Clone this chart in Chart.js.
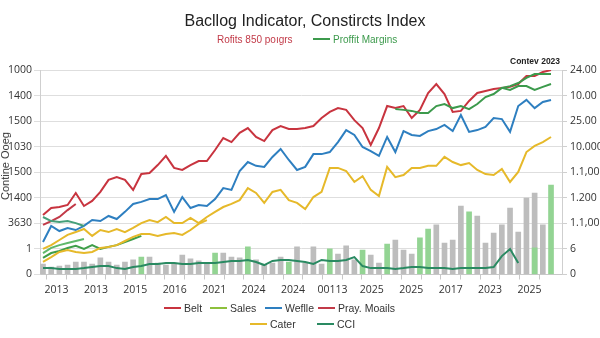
<!DOCTYPE html>
<html>
<head>
<meta charset="utf-8">
<script src="https://cdn.jsdelivr.net/npm/chart.js@4.4.1/dist/chart.umd.min.js"></script>
<style>
  html, body { margin: 0; padding: 0; background: #fff; }
  #wrap { position: relative; width: 600px; height: 338px; overflow: hidden; font-family: "Liberation Sans", Arial, sans-serif; }
  #c { position: absolute; left: 0; top: 0; }
  .abs { position: absolute; white-space: nowrap; }
  #title { left: 0; width: 610px; top: 12px; text-align: center; font-size: 16px; color: #222; }
  #sub1 { left: 217px; top: 34px; font-size: 10px; color: #c23a48; }
  #sub2 { left: 313px; top: 34px; font-size: 10px; color: #3c9a4c; }
  .sw { display: inline-block; width: 17px; height: 2px; vertical-align: middle; margin-right: 3px; position: relative; top: -1px; }
  #ytitle { left: 5px; top: 166px; font-size: 11px; color: #333; transform: translate(-50%, -50%) rotate(-90deg); }
  #corner { left: 510px; top: 56px; font-size: 8.5px; font-weight: bold; color: #222; }
  .lg { font-size: 10.5px; color: #333; }
</style>
</head>
<body>
<div id="wrap">
  <canvas id="c" width="600" height="338"></canvas>
  <div class="abs" id="title">Bacllog Indicator, Constircts Index</div>
  <div class="abs" id="sub1">Rofits 850 poıgrs</div>
  <div class="abs" id="sub2"><span class="sw" style="background:#3c9a4c"></span>Proffit Margins</div>
  <div class="abs" id="ytitle">Contine Ooeg</div>
  <div class="abs" id="corner">Contev 2023</div>
  <div id="legend"></div>
</div>
<script>
// ---- data (values in units of the left axis grid, 0..8) ----
const periods = [0,1,2,3,4,5,6,7,8,9,10,11,12,13,14,15,16,17,18,19,20,21,22,23,24,25,26,27,28,29,30,31,32,33,34,35,36,37,38,39,40,41,42,43,44,45,46,47,48,49,50,51,52,53,54,55,56,57,58,59,60,61,62];
const xTickLabels = ["2013","2013","2015","2016","2021","2024","2024","00113","2025","2025","2017","2023","2025"];
const leftTickLabels = ["0","1","3630","1400","1500","1030","1500","1400","1000"];
const rightTickLabels = ["0","6","1.1,000","1.200","1.1,000","10.000","25.00","10.00","24.00"];

const belt = [2.33,2.60,2.64,2.72,3.19,2.68,2.88,3.23,3.70,3.81,3.70,3.31,3.93,3.97,4.28,4.64,4.17,4.09,4.28,4.44,4.44,4.87,5.34,5.18,5.54,5.73,5.38,5.22,5.65,5.81,5.69,5.69,5.73,5.81,6.12,6.36,6.51,6.44,6.04,5.73,5.07,5.73,6.59,6.51,6.59,6.12,6.44,7.10,7.45,7.06,6.36,6.40,6.79,7.10,7.18,7.26,7.30,7.34,7.45,7.77,7.77,7.92,8.00];
const prayMoails = [1.94,2.09,2.25,2.52,2.76];
const weflle = [1.27,1.90,1.70,1.82,1.74,1.90,2.13,2.09,2.29,2.17,2.45,2.76,2.84,2.95,2.95,3.11,2.45,3.03,2.60,2.72,2.68,2.95,3.38,3.31,4.05,4.40,4.25,4.21,4.60,4.91,4.48,4.09,4.21,4.71,4.71,4.79,5.18,5.65,5.46,4.99,4.83,4.64,5.38,4.79,5.61,5.46,5.42,5.61,5.69,5.85,5.61,6.24,5.58,5.65,5.77,6.12,6.08,5.58,6.59,6.83,6.51,6.75,6.83];
const cater = [1.00,1.15,1.35,1.55,1.66,1.78,1.51,1.74,1.66,1.78,1.66,1.82,2.01,2.13,2.05,2.25,2.01,2.01,2.21,2.01,2.25,2.45,2.64,2.76,2.91,3.38,3.19,2.80,3.23,3.31,2.91,2.80,2.56,3.03,3.23,4.17,4.17,4.05,3.62,3.85,3.31,3.07,4.21,3.81,3.89,4.17,4.17,4.25,4.25,4.60,4.40,4.28,4.36,4.09,3.93,3.89,4.13,3.62,4.01,4.79,5.03,5.18,5.38];
const caterLow = [0.49,0.68,0.88,0.96,0.88,0.84,0.88,1.04,1.08,1.15,1.31,1.47,1.58,1.58,1.51,1.58,1.62,1.55,1.74,1.98,2.13];
const sales = [0.65,0.84,0.92,1.04,1.12,1.00,1.15,1.00,1.08,1.15,1.27,1.39,1.51];
const salesB = [0.84,1.04,1.15,1.23,1.31,1.39];
const cciUpper = [2.25,2.09,2.05,2.09,2.01,1.90];
const cci = [0.25,0.25,0.22,0.22,0.22,0.25,0.29,0.33,0.33,0.25,0.22,0.29,0.33,0.41,0.41,0.45,0.45,0.41,0.41,0.45,0.45,0.45,0.49,0.53,0.53,0.57,0.49,0.37,0.53,0.57,0.57,0.53,0.49,0.41,0.57,0.53,0.53,0.57,0.68,0.33,0.25,0.25,0.25,0.22,0.25,0.29,0.29,0.25,0.25,0.25,0.22,0.25,0.25,0.25,0.25,0.29,0.72,1.00,0.45,null,null,null,null];
const profitMargins = [null,null,null,null,null,null,null,null,null,null,null,null,null,null,null,null,null,null,null,null,null,null,null,null,null,null,null,null,null,null,null,null,null,null,null,null,null,null,null,null,null,null,null,6.47,6.44,6.40,6.32,6.32,6.59,6.67,6.51,6.59,6.47,6.67,6.94,7.06,7.30,7.22,7.37,7.37,7.22,7.34,7.45];
const profitTop = [null,null,null,null,null,null,null,null,null,null,null,null,null,null,null,null,null,null,null,null,null,null,null,null,null,null,null,null,null,null,null,null,null,null,null,null,null,null,null,null,null,null,null,null,null,null,null,null,null,null,null,null,null,null,null,null,7.30,7.37,7.49,7.69,7.84,7.84,7.84];
const grayBars = [0.41,0.29,0.33,0.37,0.49,0.49,0.41,0.65,0.49,0.37,0.49,0.57,null,0.68,0.45,0.37,0.45,0.76,0.61,0.53,0.41,null,0.84,0.68,0.65,null,0.57,0.37,0.45,0.68,null,1.08,0.45,1.08,0.41,null,0.80,1.12,0.57,null,0.76,0.45,null,1.35,0.96,0.80,null,null,1.94,1.23,1.35,2.68,null,2.29,1.23,1.62,1.94,2.60,1.66,2.99,3.19,1.94,null];
const greenBars = [null,null,null,null,null,null,null,null,null,null,null,null,0.68,null,null,null,null,null,null,null,null,0.84,null,null,null,1.08,null,null,null,null,0.49,null,null,null,null,1.00,null,null,null,0.96,null,null,1.19,null,null,null,1.43,1.78,null,null,null,null,2.45,null,null,null,null,null,null,null,1.04,null,3.50];

const C = { red: '#c8343f', red2: '#c23a48', blue: '#2e7fc0', yellow: '#e6b92a', teal: '#2a8a62', green: '#3c9a4c', ygreen: '#8dc03c', lgreen: '#5fb86a', gray: '#bdbdbd', barGreen: '#93d493' };

function line(label, data, color, extra) {
  return Object.assign({ type: 'line', label, data, borderColor: color, backgroundColor: color, borderWidth: 2, pointRadius: 0, tension: 0, spanGaps: false, order: 1 }, extra || {});
}

const datasets = [
  { type: 'bar', label: 'gray', data: grayBars, backgroundColor: C.gray, barThickness: 5, grouped: false, order: 10 },
  { type: 'bar', label: 'green', data: greenBars, backgroundColor: C.barGreen, barThickness: 5, grouped: false, order: 9 },
  line('caterLow', caterLow, C.yellow),
  line('Cater', cater, C.yellow),
  line('salesB', salesB, C.lgreen),
  line('Sales', sales, '#3f9e4a'),
  line('cciUpper', cciUpper, '#45a07a'),
  line('Weflle', weflle, C.blue),
  line('CCI', cci, C.teal),
  line('Profit Margins', profitMargins, C.green),
  line('profitTop', profitTop, C.green),
  line('Pray. Moails', prayMoails, C.red2),
  line('Belt', belt, C.red),
];

const tickFont = { family: '"Open Sans", "DejaVu Sans", sans-serif', size: 10.5 };

new Chart(document.getElementById('c'), {
  data: { labels: periods, datasets },
  options: {
    responsive: false,
    animation: false,
    layout: { padding: { top: 70, left: 0, right: 0, bottom: 0 } },
    plugins: { legend: { display: false }, title: { display: false }, tooltip: { enabled: false } },
    scales: {
      x: {
        type: 'linear', min: -0.366, max: 63.34, offset: false,
        afterBuildTicks: (s) => {
          const t = [];
          for (let j = 0; j < xTickLabels.length * 2 - 1; j++) t.push({ value: 1.65 + 2.405 * j });
          s.ticks = t;
        },
        afterFit: (s) => { s.height = 63.5; },
        ticks: {
          autoSkip: false, maxRotation: 0, padding: 4, color: '#333', font: tickFont,
          callback: (v, i) => (i % 2 === 0 ? xTickLabels[i / 2] : '')
        },
        grid: { drawOnChartArea: false, drawTicks: true, tickLength: 5, color: '#c8c8c8' },
        border: { color: '#c8c8c8' }
      },
      y: {
        position: 'left', min: 0, max: 8,
        afterFit: (s) => { s.width = 40; },
        ticks: { stepSize: 1, padding: 2, color: '#333', font: tickFont, callback: (v) => leftTickLabels[Math.round(v)] },
        grid: { color: '#dedede', tickLength: 6 },
        border: { color: '#cfcfcf' }
      },
      y2: {
        position: 'right', min: 0, max: 8,
        afterFit: (s) => { s.width = 38; },
        ticks: { stepSize: 1, padding: 3, color: '#333', font: tickFont, callback: (v) => rightTickLabels[Math.round(v)] },
        grid: { drawOnChartArea: false, color: '#cfcfcf', tickLength: 5 },
        border: { color: '#cfcfcf' }
      }
    }
  }
});

// HTML legend (two rows, as in the reference)
const legendRows = [
  [['Belt', C.red, 164], ['Sales', C.ygreen, 210], ['Weflle', C.blue, 265], ['Pray. Moails', C.red2, 318]],
  [['Cater', C.yellow, 250], ['CCI', C.teal, 317]]
];
const lg = document.getElementById('legend');
legendRows.forEach((row, r) => {
  row.forEach(([name, color, left]) => {
    const d = document.createElement('div');
    d.className = 'abs lg';
    d.style.left = left + 'px';
    d.style.top = (302 + r * 16) + 'px';
    d.innerHTML = '<span class="sw" style="background:' + color + '"></span>' + name;
    lg.appendChild(d);
  });
});
</script>
</body>
</html>
